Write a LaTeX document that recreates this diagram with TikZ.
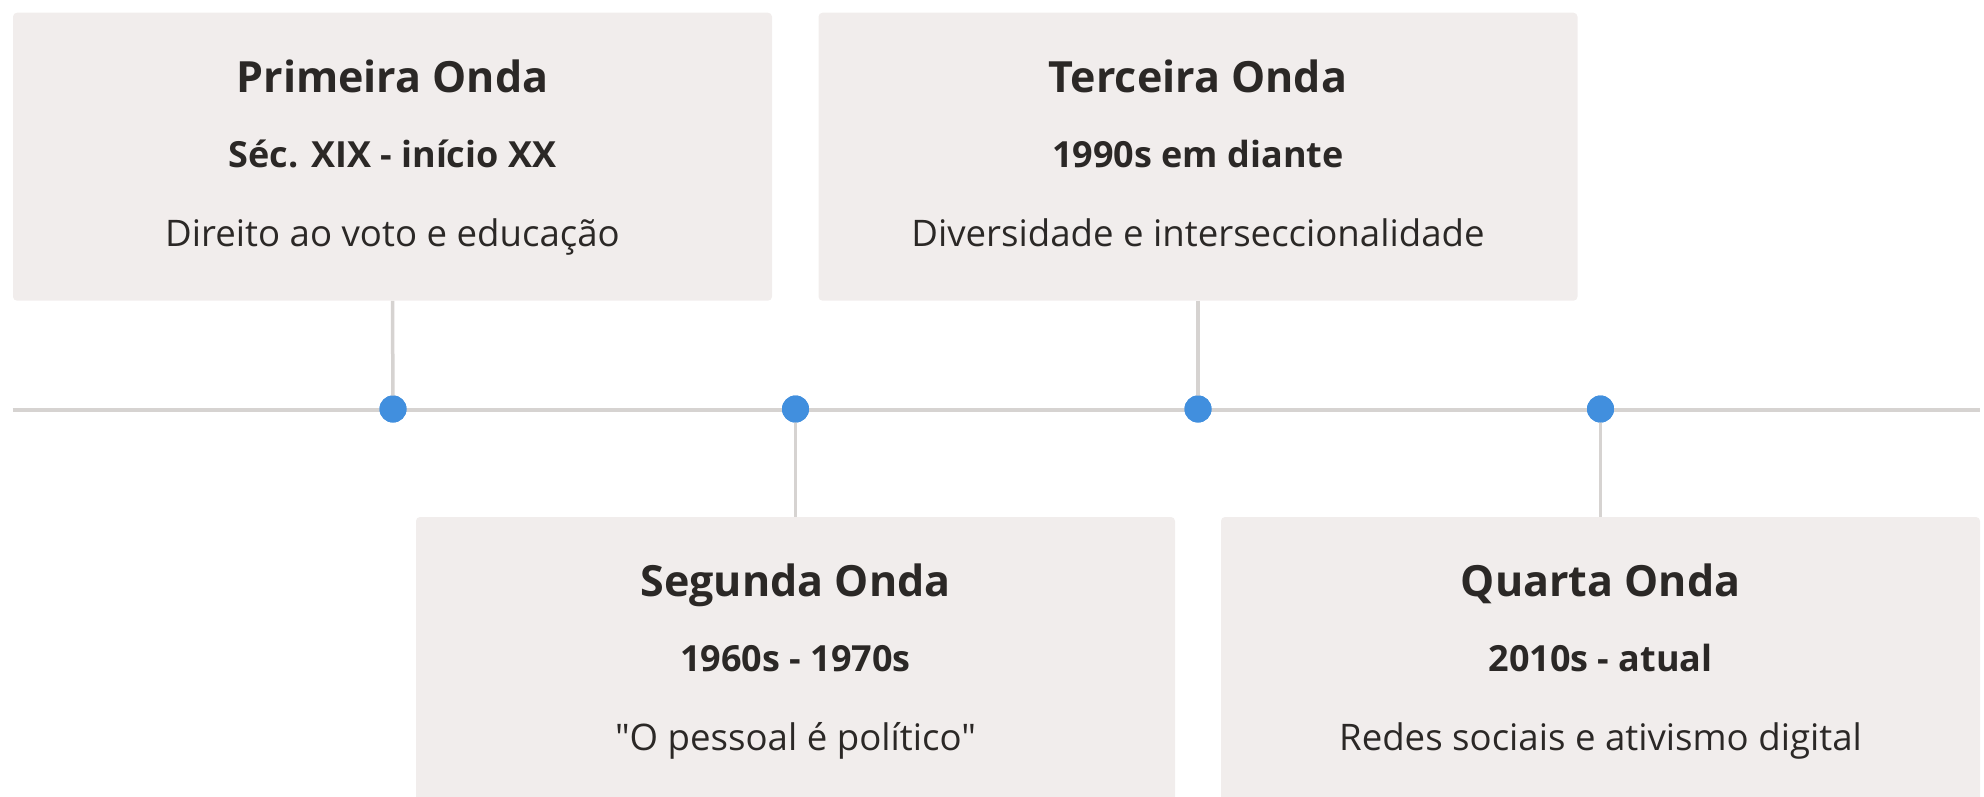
\documentclass[tikz,border=0pt]{standalone}
\usepackage{fontspec}
\setmainfont{Open Sans}[Ligatures=TeXOff]
\definecolor{boxfill}{HTML}{F1EDEC}
\definecolor{linegray}{HTML}{D6D3D1}
\definecolor{dotblue}{HTML}{418FDE}
\definecolor{ink}{HTML}{2B2826}
\begin{document}
\begin{tikzpicture}[x=1pt,y=-1pt,
  card/.style={fill=boxfill, rounded corners=4pt, minimum width=759pt, minimum height=288pt, inner sep=0pt, draw=none},
  dot/.style={circle, fill=dotblue, minimum size=27pt, inner sep=0pt},
  link/.style={draw=linegray, line width=3.5pt},
  ttl/.style={font=\bfseries\fontsize{43}{50}\selectfont, text=ink, anchor=base, inner sep=0pt},
  sub/.style={font=\bfseries\fontsize{36}{42}\selectfont, text=ink, anchor=base, inner sep=0pt},
  desc/.style={font=\fontsize{36.6}{42}\selectfont, text=ink, anchor=base, inner sep=0pt}]
\useasboundingbox (0,0) rectangle (1984,797);
\clip (0,0) rectangle (1984,797);
% cards
\node[card] (c1) at (392.5,156.7) {};
\node[card] (c3) at (1198,156.7) {};
\node[card] (c2) at (795.5,661) {};
\node[card] (c4) at (1600.5,661) {};
% timeline
\coordinate (tlA) at (12.7,410);
\coordinate (tlB) at (1980,410);
\draw[link] (tlA) -- (tlB);
\node[dot] (d1) at (393,409) {};
\node[dot] (d2) at (795.5,409) {};
\node[dot] (d3) at (1198,409) {};
\node[dot] (d4) at (1600.5,409) {};
\draw[link] (c1.south) -- (d1.center);
\draw[link] (c3.south) -- (d3.center);
\draw[link] (d2.center) -- (c2.north);
\draw[link] (d4.center) -- (c4.north);
\node[dot] at (d1) {};
\node[dot] at (d2) {};
\node[dot] at (d3) {};
\node[dot] at (d4) {};
% texts
\node[ttl] (t1) at ([yshift=-80pt]c1.north) {Primeira Onda};
\node[sub] (s1) at ([yshift=-155pt]c1.north) {Séc. XIX - início XX};
\node[desc] (e1) at ([yshift=-234pt]c1.north) {Direito ao voto e educação};
\node[ttl] (t3) at ([yshift=-80pt]c3.north) {Terceira Onda};
\node[sub] (s3) at ([yshift=-155pt]c3.north) {1990s em diante};
\node[desc] (e3) at ([yshift=-234pt]c3.north) {Diversidade e interseccionalidade};
\node[ttl] (t2) at ([yshift=-80pt]c2.north) {Segunda Onda};
\node[sub] (s2) at ([yshift=-155pt]c2.north) {1960s - 1970s};
\node[desc] (e2) at ([yshift=-234pt]c2.north) {"O pessoal é político"};
\node[ttl] (t4) at ([yshift=-80pt]c4.north) {Quarta Onda};
\node[sub] (s4) at ([yshift=-155pt]c4.north) {2010s - atual};
\node[desc] (e4) at ([yshift=-234pt]c4.north) {Redes sociais e ativismo digital};
\end{tikzpicture}
\end{document}
